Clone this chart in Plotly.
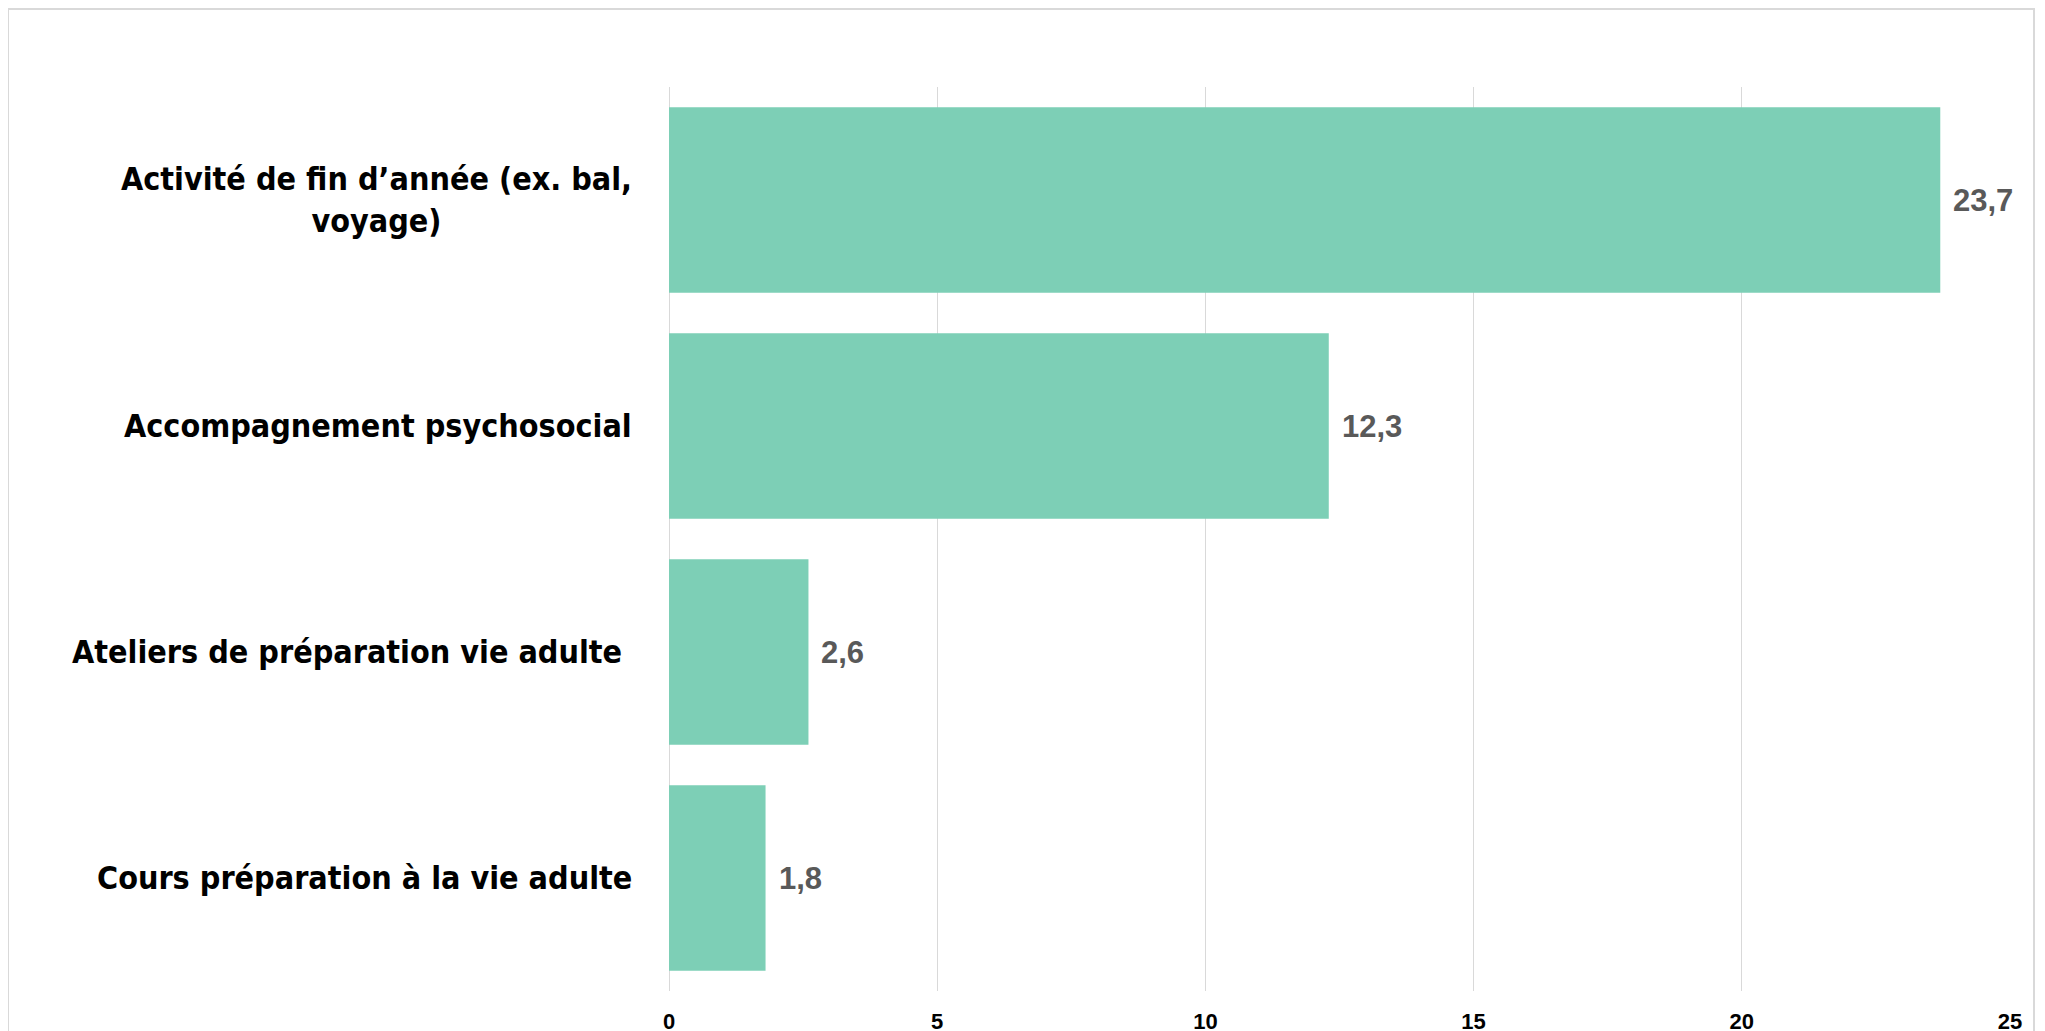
import plotly.graph_objects as go

categories = [
    "Activité de fin d’année (ex. bal,<br>voyage)",
    "Accompagnement psychosocial",
    "Ateliers de préparation vie adulte ",
    "Cours préparation à la vie adulte",
]
values = [23.7, 12.3, 2.6, 1.8]
value_labels = ["23,7", "12,3", "2,6", "1,8"]
tick_vals = [0, 5, 10, 15, 20, 25]

W, H = 2045, 1031
L, R, T, B = 661, 43, 79, 48
pw, ph = W - L - R, H - T - B

label_font = "DejaVu Sans Condensed, Roboto Condensed, Roboto, sans-serif"
num_font = "Liberation Sans, Arial, sans-serif"

fig = go.Figure()
fig.add_trace(go.Bar(
    y=categories,
    x=values,
    orientation="h",
    marker=dict(color="#7DCFB6", line=dict(width=0)),
    hoverinfo="skip",
))

annotations = []
for c in categories:
    annotations.append(dict(
        x=0, xref="paper", y=c, yref="y",
        xanchor="right", yanchor="middle", xshift=-35,
        text=c, showarrow=False, align="center",
        font=dict(family=label_font, size=32, color="#000000", weight="bold"),
    ))
for c, v, t in zip(categories, values, value_labels):
    annotations.append(dict(
        x=v, xref="x", y=c, yref="y",
        xanchor="left", yanchor="middle", xshift=11,
        text=t, showarrow=False,
        font=dict(family=num_font, size=31, color="#595959", weight="bold"),
    ))

fig.update_layout(
    width=W, height=H,
    margin=dict(l=L, r=R, t=T, b=B, autoexpand=False),
    paper_bgcolor="white",
    plot_bgcolor="white",
    showlegend=False,
    bargap=0.18,
    annotations=annotations,
    shapes=[dict(
        type="rect", xref="paper", yref="paper",
        x0=(0 - L) / pw, x1=(2026 - L) / pw,
        y0=(H - B - 1045) / ph, y1=(H - B - 1) / ph,
        line=dict(color="#D9D9D9", width=2), fillcolor="rgba(0,0,0,0)", layer="below",
    )],
    xaxis=dict(
        range=[0, 25],
        tickvals=tick_vals,
        automargin=False,
        showgrid=True, gridcolor="#D9D9D9", gridwidth=1,
        zeroline=True, zerolinecolor="#D9D9D9", zerolinewidth=1,
        showline=False,
        tickfont=dict(family=num_font, size=22, color="#000000", weight="bold"),
        ticks="", ticklabelstandoff=15,
    ),
    yaxis=dict(
        autorange="reversed",
        automargin=False,
        showticklabels=False,
        showgrid=False, zeroline=False, showline=False, ticks="",
    ),
)

fig.write_html("out.html")
